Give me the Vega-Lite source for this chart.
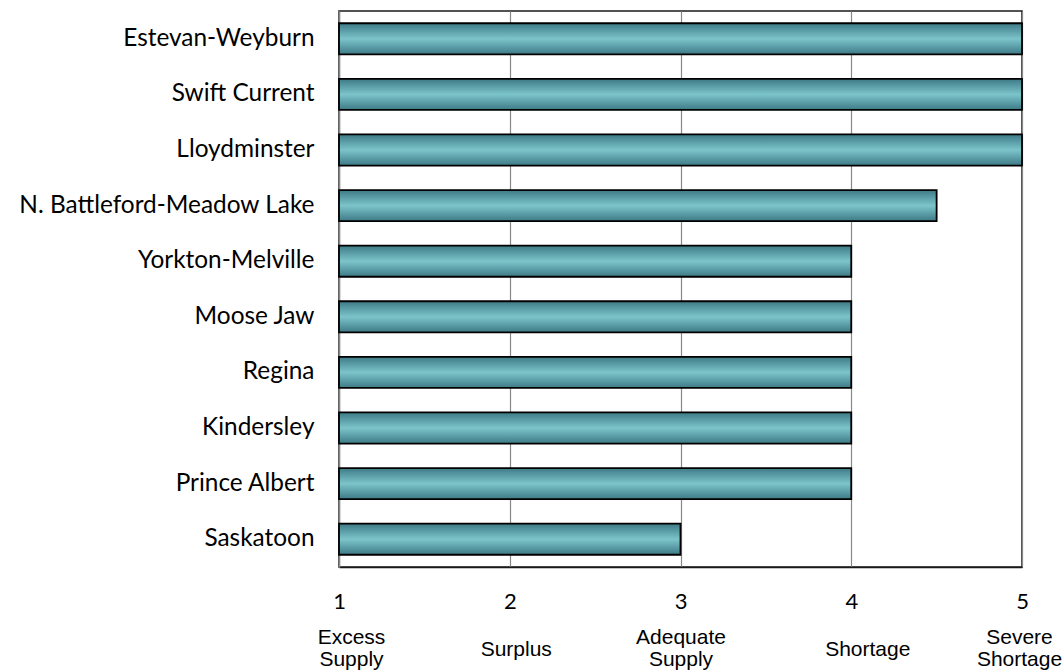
{
  "$schema": "https://vega.github.io/schema/vega-lite/v6.json",
  "width": 683,
  "height": 556,
  "autosize": {"type": "none"},
  "padding": {"left": 339, "top": 11, "right": 41, "bottom": 104},
  "background": "white",
  "config": {
    "view": {"stroke": "#1a1a1a", "strokeWidth": 1.5},
    "axis": {"titleFont": "Lato"}
  },
  "data": {
    "values": [
      {"region": "Estevan-Weyburn", "score": 5},
      {"region": "Swift Current", "score": 5},
      {"region": "Lloydminster", "score": 5},
      {"region": "N. Battleford-Meadow Lake", "score": 4.5},
      {"region": "Yorkton-Melville", "score": 4},
      {"region": "Moose Jaw", "score": 4},
      {"region": "Regina", "score": 4},
      {"region": "Kindersley", "score": 4},
      {"region": "Prince Albert", "score": 4},
      {"region": "Saskatoon", "score": 3}
    ]
  },
  "resolve": {"axis": {"x": "independent"}},
  "layer": [
    {
      "mark": {
        "type": "bar",
        "stroke": "#000000",
        "strokeWidth": 1.8,
        "color": {
          "gradient": "linear",
          "x1": 0, "y1": 0, "x2": 0, "y2": 1,
          "stops": [
            {"offset": 0, "color": "#3d7a86"},
            {"offset": 0.5, "color": "#7cc4ca"},
            {"offset": 1, "color": "#3d7a86"}
          ]
        }
      },
      "encoding": {
        "y": {
          "field": "region",
          "type": "nominal",
          "sort": null,
          "scale": {"paddingInner": 0.44, "paddingOuter": 0.22},
          "axis": {
            "title": null,
            "ticks": false,
            "domain": true,
            "domainColor": "#888888",
            "domainWidth": 1.5,
            "labelFont": "Lato",
            "labelFontSize": 24.4,
            "labelColor": "#000000",
            "labelPadding": 25,
            "labelLimit": 400
          }
        },
        "x": {
          "field": "score",
          "type": "quantitative",
          "scale": {"domain": [1, 5], "zero": false, "nice": false},
          "axis": {
            "title": null,
            "values": [1, 2, 3, 4, 5],
            "format": "d",
            "grid": true,
            "gridColor": "#888888",
            "gridWidth": 1.2,
            "ticks": false,
            "domain": true,
            "domainColor": "#1a1a1a",
            "domainWidth": 1.5,
            "labelFont": "Lato",
            "labelFontSize": 22,
            "labelColor": "#000000",
            "labelBaseline": "alphabetic",
            "labelPadding": 41,
            "labelFlush": false
          }
        },
        "x2": {"datum": 1}
      }
    },
    {
      "mark": {"type": "rule", "opacity": 0},
      "encoding": {
        "x": {
          "datum": 1,
          "type": "quantitative",
          "axis": {
            "orient": "bottom",
            "title": null,
            "values": [1, 2, 3, 4, 5],
            "grid": false,
            "ticks": false,
            "domain": false,
            "labelFont": "Liberation Sans",
            "labelFontSize": 21,
            "labelColor": "#000000",
            "labelBaseline": "alphabetic",
            "labelLineHeight": 22,
            "labelPadding": {
              "condition": {"test": "datum.value == 2 || datum.value == 4", "value": 88},
              "value": 76
            },
            "labelOffset": {
              "condition": [
                {"test": "datum.value == 1", "value": 12},
                {"test": "datum.value == 2", "value": 6},
                {"test": "datum.value == 4", "value": 16},
                {"test": "datum.value == 5", "value": -3}
              ],
              "value": 0
            },
            "labelFlush": false,
            "labelOverlap": false,
            "labelExpr": "datum.value == 1 ? ['Excess', 'Supply'] : datum.value == 2 ? 'Surplus' : datum.value == 3 ? ['Adequate', 'Supply'] : datum.value == 4 ? 'Shortage' : ['Severe', 'Shortage']"
          }
        }
      }
    }
  ]
}
